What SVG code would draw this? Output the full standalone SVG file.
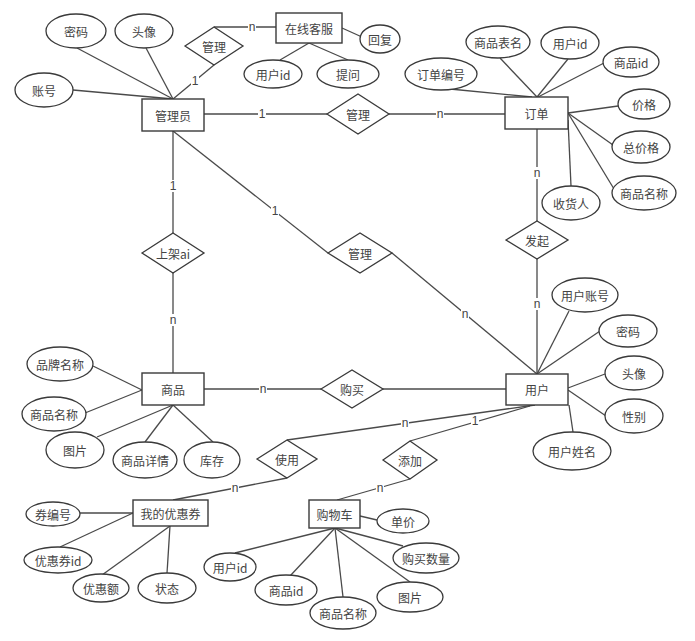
<svg xmlns="http://www.w3.org/2000/svg" width="695" height="641" viewBox="0 0 695 641">
<style>
.ln{stroke:#4a4a4a;stroke-width:1.3;fill:none}
.ent{fill:#fff;stroke:#3a3a3a;stroke-width:1.4}
.rel{fill:#fff;stroke:#3a3a3a;stroke-width:1.3}
.att{fill:#fff;stroke:#3a3a3a;stroke-width:1.3}
.bg{fill:#fff;stroke:none}
text{font-family:"Noto Sans CJK SC","Liberation Sans",sans-serif;font-size:12px;fill:#444;text-anchor:middle;dominant-baseline:central}
.lbl{font-family:"Liberation Sans","Noto Sans CJK SC",sans-serif;font-size:12px;fill:#444}
</style>
<defs><rect id="lb" class="bg" x="-4" y="-6" width="8" height="12"/></defs>
<rect width="695" height="641" fill="#fff"/>
<g id="connectors">
<line class="ln" x1="77" y1="48" x2="173" y2="99"/>
<line class="ln" x1="146" y1="48" x2="173" y2="99"/>
<line class="ln" x1="73" y1="90" x2="173" y2="99"/>
<line class="ln" x1="173" y1="99" x2="214" y2="65"/>
<line class="ln" x1="214" y1="27" x2="276" y2="27"/>
<line class="ln" x1="342" y1="28" x2="362" y2="37"/>
<line class="ln" x1="309" y1="43" x2="280" y2="60"/>
<line class="ln" x1="309" y1="43" x2="348" y2="60"/>
<line class="ln" x1="204" y1="114" x2="327" y2="114"/>
<line class="ln" x1="389" y1="114" x2="505" y2="114"/>
<line class="ln" x1="450" y1="89" x2="532" y2="97"/>
<line class="ln" x1="500" y1="58" x2="537" y2="97"/>
<line class="ln" x1="568" y1="59" x2="537" y2="97"/>
<line class="ln" x1="604" y1="63" x2="538" y2="97"/>
<line class="ln" x1="568" y1="113" x2="618" y2="106"/>
<line class="ln" x1="568" y1="113" x2="613" y2="145"/>
<line class="ln" x1="568" y1="113" x2="614" y2="189"/>
<line class="ln" x1="568" y1="120" x2="571" y2="186"/>
<line class="ln" x1="537" y1="129" x2="537" y2="221"/>
<line class="ln" x1="537" y1="259" x2="537" y2="374"/>
<line class="ln" x1="173" y1="131" x2="173" y2="233"/>
<line class="ln" x1="173" y1="273" x2="173" y2="373"/>
<line class="ln" x1="173" y1="131" x2="328" y2="253"/>
<line class="ln" x1="392" y1="253" x2="537" y2="374"/>
<line class="ln" x1="569" y1="311" x2="537" y2="374"/>
<line class="ln" x1="600" y1="331" x2="537" y2="374"/>
<line class="ln" x1="605" y1="374" x2="568" y2="388"/>
<line class="ln" x1="606" y1="416" x2="568" y2="390"/>
<line class="ln" x1="573" y1="432" x2="569" y2="405"/>
<line class="ln" x1="204" y1="389" x2="321" y2="389"/>
<line class="ln" x1="383" y1="389" x2="506" y2="389"/>
<line class="ln" x1="93" y1="366" x2="142" y2="390"/>
<line class="ln" x1="85" y1="413" x2="142" y2="390"/>
<line class="ln" x1="97" y1="437" x2="173" y2="405"/>
<line class="ln" x1="145" y1="442" x2="173" y2="405"/>
<line class="ln" x1="213" y1="442" x2="173" y2="405"/>
<line class="ln" x1="535" y1="405" x2="287" y2="440"/>
<line class="ln" x1="530" y1="406" x2="410" y2="441"/>
<line class="ln" x1="287" y1="478" x2="173" y2="500"/>
<line class="ln" x1="410" y1="479" x2="337" y2="500"/>
<line class="ln" x1="80" y1="513" x2="133" y2="513"/>
<line class="ln" x1="60" y1="547" x2="133" y2="513"/>
<line class="ln" x1="102" y1="575" x2="170" y2="526"/>
<line class="ln" x1="167" y1="573" x2="170" y2="526"/>
<line class="ln" x1="360" y1="516" x2="377" y2="520"/>
<line class="ln" x1="335" y1="528" x2="235" y2="553"/>
<line class="ln" x1="335" y1="528" x2="290" y2="576"/>
<line class="ln" x1="335" y1="528" x2="343" y2="597"/>
<line class="ln" x1="335" y1="528" x2="410" y2="582"/>
<line class="ln" x1="335" y1="528" x2="403" y2="546"/>
<use href="#lb" x="195" y="81"/><text class="lbl" x="195" y="81">1</text>
<use href="#lb" x="252" y="27"/><text class="lbl" x="252" y="27">n</text>
<use href="#lb" x="262" y="114"/><text class="lbl" x="262" y="114">1</text>
<use href="#lb" x="440" y="114"/><text class="lbl" x="440" y="114">n</text>
<use href="#lb" x="537" y="173"/><text class="lbl" x="537" y="173">n</text>
<use href="#lb" x="537" y="304"/><text class="lbl" x="537" y="304">n</text>
<use href="#lb" x="173" y="186"/><text class="lbl" x="173" y="186">1</text>
<use href="#lb" x="173" y="320"/><text class="lbl" x="173" y="320">n</text>
<use href="#lb" x="275" y="211"/><text class="lbl" x="275" y="211">1</text>
<use href="#lb" x="465" y="314"/><text class="lbl" x="465" y="314">n</text>
<use href="#lb" x="263" y="389"/><text class="lbl" x="263" y="389">n</text>
<use href="#lb" x="405" y="423"/><text class="lbl" x="405" y="423">n</text>
<use href="#lb" x="475" y="421"/><text class="lbl" x="475" y="421">1</text>
<use href="#lb" x="235" y="488"/><text class="lbl" x="235" y="488">n</text>
<use href="#lb" x="380" y="488"/><text class="lbl" x="380" y="488">n</text>
</g>
<g id="admin"><rect class="ent" x="142" y="99" width="62" height="32"/><text x="173" y="115">管理员</text></g>
<g id="service"><rect class="ent" x="276" y="13" width="66" height="30"/><text x="309" y="28">在线客服</text></g>
<g id="order"><rect class="ent" x="505" y="97" width="63" height="32"/><text x="536.5" y="113">订单</text></g>
<g id="user"><rect class="ent" x="506" y="374" width="62" height="31"/><text x="537" y="389.5">用户</text></g>
<g id="goods"><rect class="ent" x="142" y="373" width="62" height="32"/><text x="173" y="389">商品</text></g>
<g id="coupon"><rect class="ent" x="133" y="500" width="75" height="26"/><text x="170.5" y="513">我的优惠券</text></g>
<g id="cart"><rect class="ent" x="309" y="500" width="51" height="28"/><text x="334.5" y="514">购物车</text></g>
<g id="rel-manage-service"><polygon class="rel" points="185,46 214,27 243,46 214,65"/><text x="214" y="46">管理</text></g>
<g id="rel-manage-order"><polygon class="rel" points="327,114 358,94 389,114 358,134"/><text x="358" y="114">管理</text></g>
<g id="rel-shelf"><polygon class="rel" points="142,253 173,233 204,253 173,273"/><text x="173" y="253">上架ai</text></g>
<g id="rel-manage-user"><polygon class="rel" points="328,253 360,233 392,253 360,273"/><text x="360" y="253">管理</text></g>
<g id="rel-start"><polygon class="rel" points="506,240 537,221 568,240 537,259"/><text x="537" y="240">发起</text></g>
<g id="rel-buy"><polygon class="rel" points="321,389 352,370 383,389 352,408"/><text x="352" y="389">购买</text></g>
<g id="rel-use"><polygon class="rel" points="257,459 287,440 317,459 287,478"/><text x="287" y="459">使用</text></g>
<g id="rel-add"><polygon class="rel" points="383,460 410,441 437,460 410,479"/><text x="410" y="460">添加</text></g>
<g id="a-admin-pwd"><ellipse class="att" cx="76" cy="31" rx="30" ry="17"/><text x="76" y="31">密码</text></g>
<g id="a-admin-avatar"><ellipse class="att" cx="144" cy="31" rx="29" ry="17"/><text x="144" y="31">头像</text></g>
<g id="a-admin-acc"><ellipse class="att" cx="44" cy="90" rx="29" ry="17"/><text x="44" y="90">账号</text></g>
<g id="a-svc-reply"><ellipse class="att" cx="380" cy="39" rx="20" ry="14"/><text x="380" y="39">回复</text></g>
<g id="a-svc-uid"><ellipse class="att" cx="273" cy="74" rx="29" ry="14"/><text x="273" y="74">用户id</text></g>
<g id="a-svc-ask"><ellipse class="att" cx="348" cy="74" rx="31" ry="14"/><text x="348" y="74">提问</text></g>
<g id="a-ord-table"><ellipse class="att" cx="498" cy="42" rx="32" ry="16"/><text x="498" y="42">商品表名</text></g>
<g id="a-ord-uid"><ellipse class="att" cx="570" cy="43" rx="29" ry="16"/><text x="570" y="43">用户id</text></g>
<g id="a-ord-gid"><ellipse class="att" cx="631" cy="62" rx="28" ry="15"/><text x="631" y="62">商品id</text></g>
<g id="a-ord-no"><ellipse class="att" cx="441" cy="74" rx="36" ry="16"/><text x="441" y="74">订单编号</text></g>
<g id="a-ord-price"><ellipse class="att" cx="644" cy="104" rx="26" ry="15"/><text x="644" y="104">价格</text></g>
<g id="a-ord-total"><ellipse class="att" cx="641" cy="147" rx="29" ry="16"/><text x="641" y="147">总价格</text></g>
<g id="a-ord-gname"><ellipse class="att" cx="644" cy="193" rx="32" ry="17"/><text x="644" y="193">商品名称</text></g>
<g id="a-ord-recv"><ellipse class="att" cx="571" cy="203" rx="29" ry="17"/><text x="571" y="203">收货人</text></g>
<g id="a-user-acc"><ellipse class="att" cx="585" cy="295" rx="33" ry="17"/><text x="585" y="295">用户账号</text></g>
<g id="a-user-pwd"><ellipse class="att" cx="628" cy="331" rx="29" ry="16"/><text x="628" y="331">密码</text></g>
<g id="a-user-avatar"><ellipse class="att" cx="634" cy="373" rx="29" ry="17"/><text x="634" y="373">头像</text></g>
<g id="a-user-sex"><ellipse class="att" cx="634" cy="416" rx="29" ry="17"/><text x="634" y="416">性别</text></g>
<g id="a-user-name"><ellipse class="att" cx="572" cy="451" rx="39" ry="19"/><text x="572" y="451">用户姓名</text></g>
<g id="a-goods-brand"><ellipse class="att" cx="60" cy="364" rx="33" ry="17"/><text x="60" y="364">品牌名称</text></g>
<g id="a-goods-name"><ellipse class="att" cx="54" cy="414" rx="32" ry="17"/><text x="54" y="414">商品名称</text></g>
<g id="a-goods-pic"><ellipse class="att" cx="75" cy="450" rx="29" ry="18"/><text x="75" y="450">图片</text></g>
<g id="a-goods-detail"><ellipse class="att" cx="145" cy="460" rx="32" ry="18"/><text x="145" y="460">商品详情</text></g>
<g id="a-goods-stock"><ellipse class="att" cx="212" cy="460" rx="28" ry="18"/><text x="212" y="460">库存</text></g>
<g id="a-cp-no"><ellipse class="att" cx="53" cy="514" rx="27" ry="12"/><text x="53" y="514">券编号</text></g>
<g id="a-cp-id"><ellipse class="att" cx="58" cy="560" rx="34" ry="13"/><text x="58" y="560">优惠券id</text></g>
<g id="a-cp-amt"><ellipse class="att" cx="101" cy="588" rx="28" ry="14"/><text x="101" y="588">优惠额</text></g>
<g id="a-cp-state"><ellipse class="att" cx="167" cy="588" rx="29" ry="15"/><text x="167" y="588">状态</text></g>
<g id="a-cart-price"><ellipse class="att" cx="403" cy="521" rx="26" ry="12"/><text x="403" y="521">单价</text></g>
<g id="a-cart-uid"><ellipse class="att" cx="230" cy="567" rx="26" ry="14"/><text x="230" y="567">用户id</text></g>
<g id="a-cart-gid"><ellipse class="att" cx="286" cy="590" rx="31" ry="15"/><text x="286" y="590">商品id</text></g>
<g id="a-cart-gname"><ellipse class="att" cx="343" cy="613" rx="33" ry="16"/><text x="343" y="613">商品名称</text></g>
<g id="a-cart-pic"><ellipse class="att" cx="410" cy="597" rx="33" ry="15"/><text x="410" y="597">图片</text></g>
<g id="a-cart-qty"><ellipse class="att" cx="426" cy="558" rx="33" ry="15"/><text x="426" y="558">购买数量</text></g>
</svg>
